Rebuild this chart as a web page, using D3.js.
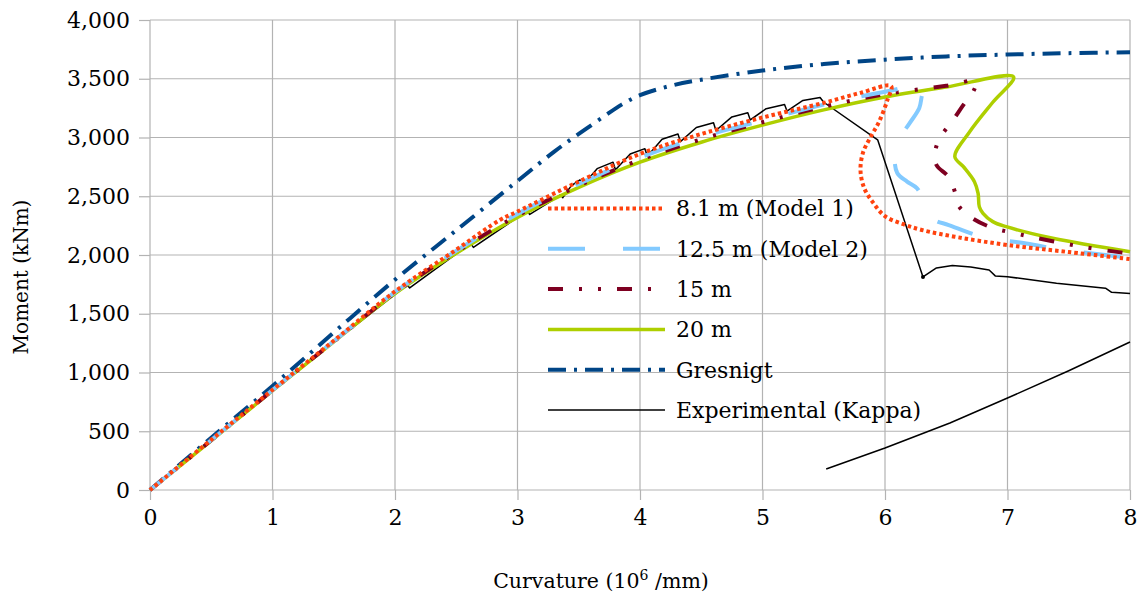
<!DOCTYPE html>
<html>
<head>
<meta charset="utf-8">
<script src="https://cdn.jsdelivr.net/npm/d3@7"></script>
<style>
  html, body { margin: 0; padding: 0; background: #fff; }
  svg { display: block; font-family: "DejaVu Serif", serif; }
</style>
</head>
<body>
<div id="chart"></div>
<script>
// tick values
const xTicks = [0, 1, 2, 3, 4, 5, 6, 7, 8];
const yTicks = [0, 500, 1000, 1500, 2000, 2500, 3000, 3500, 4000];

// series, [curvature, moment]
const model1 = [[0,0],[0.5,428],[1,852],[1.5,1270],[2,1690],[2.5,2045],[2.86,2300],[3,2370],[3.5,2625],[4,2860],[4.5,3030],[5,3170],[5.5,3295],[5.8,3380],[6.05,3438],
  [6.02,3320],[5.95,3130],[5.88,3000],[5.82,2870],[5.8,2720],[5.83,2570],[5.9,2450],[6.0,2330],[6.15,2262],[6.3,2213],[6.6,2150],[7.0,2085],[7.5,2025],[8,1965]];
const model2 = [[0,0],[0.5,425],[1,850],[1.5,1266],[2,1684],[2.5,2035],[3,2350],[3.5,2605],[4,2830],[4.5,3005],[5,3145],[5.5,3280],[6,3390],[6.32,3440],
  [6.3,3350],[6.28,3251],[6.2,3120],[6.12,2996],[6.08,2850],[6.1,2698],[6.18,2625],[6.26,2570],[6.3,2494],[6.33,2383],[6.4,2300],[6.52,2255],[6.8,2153],[7.13,2102],[7.41,2051],[8,1975]];
const model3 = [[0,0],[0.5,423],[1,848],[1.5,1263],[2,1678],[2.5,2025],[3,2335],[3.5,2590],[4,2810],[4.5,2985],[5,3130],[5.5,3262],[6,3368],[6.5,3440],[6.74,3478],
  [6.72,3390],[6.64,3277],[6.55,3140],[6.45,3000],[6.41,2880],[6.42,2766],[6.52,2664],[6.57,2540],[6.6,2420],[6.71,2315],[6.86,2238],[7.05,2187],[7.62,2068],[8,2012]];
const model4 = [[0,0],[0.5,420],[1,845],[1.5,1260],[2,1672],[2.5,2015],[3,2320],[3.5,2575],[4,2790],[4.5,2960],[5,3105],[5.5,3235],[6,3345],[6.5,3430],[7.05,3515],
  [6.88,3300],[6.69,3047],[6.57,2837],[6.64,2752],[6.73,2624],[6.76,2525],[6.77,2411],[6.8,2355],[6.88,2284],[6.99,2241],[7.37,2142],[8,2028]];
const gresnigt = [[0,0],[0.5,445],[1,885],[1.5,1340],[2,1790],[2.5,2210],[3,2630],[3.3,2880],[3.5,3030],[3.7,3175],[3.85,3280],[4,3360],[4.25,3440],[4.5,3492],[5,3570],[5.5,3625],[6,3662],[6.5,3690],[7,3706],[7.5,3718],[8,3725]];
const experimental = [[0,0],[0.5,415],[1,840],[1.5,1255],[2,1665],[2.1,1745],[2.12,1720],[2.5,2010],[2.62,2095],[2.64,2065],[3.0,2320],[3.08,2375],[3.1,2345],[3.3,2475],[3.35,2512],[3.37,2488],
  [3.44,2590],[3.51,2640],[3.53,2590],[3.65,2735],[3.78,2790],[3.8,2725],[3.92,2860],[4.04,2905],[4.06,2840],[4.18,2985],[4.31,3030],[4.33,2965],
  [4.46,3085],[4.6,3125],[4.62,3060],[4.75,3175],[4.88,3210],[4.9,3150],[5.03,3245],[5.18,3280],[5.2,3225],[5.33,3315],[5.47,3340],[5.5,3300],
  [5.94,2980],[6.31,1813],[6.42,1890],[6.55,1910],[6.7,1898],[6.85,1872],[6.9,1822],[7.0,1815],[7.4,1760],[7.8,1718],[7.85,1682],[8,1672]];
const experimentalReload = [[5.52,179],[6.0,357],[6.53,570],[7.0,783],[7.5,1015],[8,1260]];

const series = [
  { name: "Experimental (Kappa)", data: [experimental, experimentalReload], color: "#000000", width: 1.5, dash: null, curve: d3.curveLinear },
  { name: "Gresnigt", data: [gresnigt], color: "#004586", width: 4, dash: "18,8,3,8", curve: d3.curveCatmullRom },
  { name: "20 m", data: [model4], color: "#aecf00", width: 3.5, dash: null, curve: d3.curveCatmullRom },
  { name: "15 m", data: [model3], color: "#7e0021", width: 4, dash: "15,16,3,16,3,16", curve: d3.curveCatmullRom },
  { name: "12.5 m (Model 2)", data: [model2], color: "#83caff", width: 4, dash: "37,38", curve: d3.curveCatmullRom },
  { name: "8.1 m (Model 1)", data: [model1], color: "#ff420e", width: 4, dash: "3.5,3", curve: d3.curveCatmullRom },
];
const legendOrder = ["8.1 m (Model 1)", "12.5 m (Model 2)", "15 m", "20 m", "Gresnigt", "Experimental (Kappa)"];

const width = 1143, height = 599;
const x = d3.scaleLinear().domain([0, 8]).range([150, 1130]);
const y = d3.scaleLinear().domain([0, 4000]).range([490, 20]);
const gridColor = "#b3b3b3";

const svg = d3.select("#chart").append("svg")
  .attr("width", width)
  .attr("height", height);

// grid
svg.append("g")
  .selectAll("line")
  .data(yTicks)
  .join("line")
    .attr("x1", x(0)).attr("x2", x(8))
    .attr("y1", d => y(d)).attr("y2", d => y(d))
    .attr("stroke", gridColor).attr("stroke-width", 1.2);
svg.append("g")
  .selectAll("line")
  .data(xTicks)
  .join("line")
    .attr("x1", d => x(d)).attr("x2", d => x(d))
    .attr("y1", y(0)).attr("y2", y(4000))
    .attr("stroke", gridColor).attr("stroke-width", 1.2);

// axes
svg.append("g")
  .attr("transform", `translate(${x(0)},0)`)
  .call(d3.axisLeft(y).tickValues(yTicks).tickSize(11).tickPadding(9).tickFormat(d3.format(",")))
  .call(g => g.select(".domain").remove());
svg.append("g")
  .attr("transform", `translate(0,${y(0)})`)
  .call(d3.axisBottom(x).tickValues(xTicks).tickSize(10).tickPadding(9).tickFormat(d3.format("d")))
  .call(g => g.select(".domain").remove());

svg.selectAll(".tick line").attr("stroke", gridColor).attr("stroke-width", 1.2);
svg.selectAll(".tick text")
  .attr("fill", "#000")
  .style("font-family", "DejaVu Serif")
  .style("font-size", "22px");

// axis titles
svg.append("text")
  .attr("transform", "translate(28,277) rotate(-90)")
  .attr("text-anchor", "middle")
  .style("font-size", "20px")
  .text("Moment (kNm)");

const xTitle = svg.append("text")
  .attr("x", 601)
  .attr("y", 588)
  .attr("text-anchor", "middle")
  .style("font-size", "20.5px");
xTitle.append("tspan").text("Curvature (10");
xTitle.append("tspan").attr("dy", -8).style("font-size", "14px").text("6");
xTitle.append("tspan").attr("dy", 8).text(" /mm)");

// lines
const line = d3.line()
  .x(d => x(d[0]))
  .y(d => y(d[1]));

series.forEach(s => {
  s.data.forEach(part => {
    svg.append("path")
      .datum(part)
      .attr("fill", "none")
      .attr("stroke", s.color)
      .attr("stroke-width", s.width)
      .attr("stroke-dasharray", s.dash)
      .attr("stroke-linejoin", "round")
      .attr("d", line.curve(s.curve));
  });
});
// small marker on experimental
svg.append("circle")
  .attr("cx", x(experimental[experimental.findIndex(d => d[1] === 1813)][0]))
  .attr("cy", y(1813))
  .attr("r", 2)
  .attr("fill", "#000");

// legend
const legend = svg.append("g");
legendOrder.forEach((name, i) => {
  const s = series.find(t => t.name === name);
  const ly = 208.5 + i * 40.3;
  legend.append("line")
    .attr("x1", 548).attr("x2", 665)
    .attr("y1", ly).attr("y2", ly)
    .attr("stroke", s.color)
    .attr("stroke-width", s.width)
    .attr("stroke-dasharray", s.dash);
  legend.append("text")
    .attr("x", 676)
    .attr("y", ly)
    .attr("dy", "0.36em")
    .style("font-size", "22px")
    .text(name);
});
</script>
</body>
</html>
